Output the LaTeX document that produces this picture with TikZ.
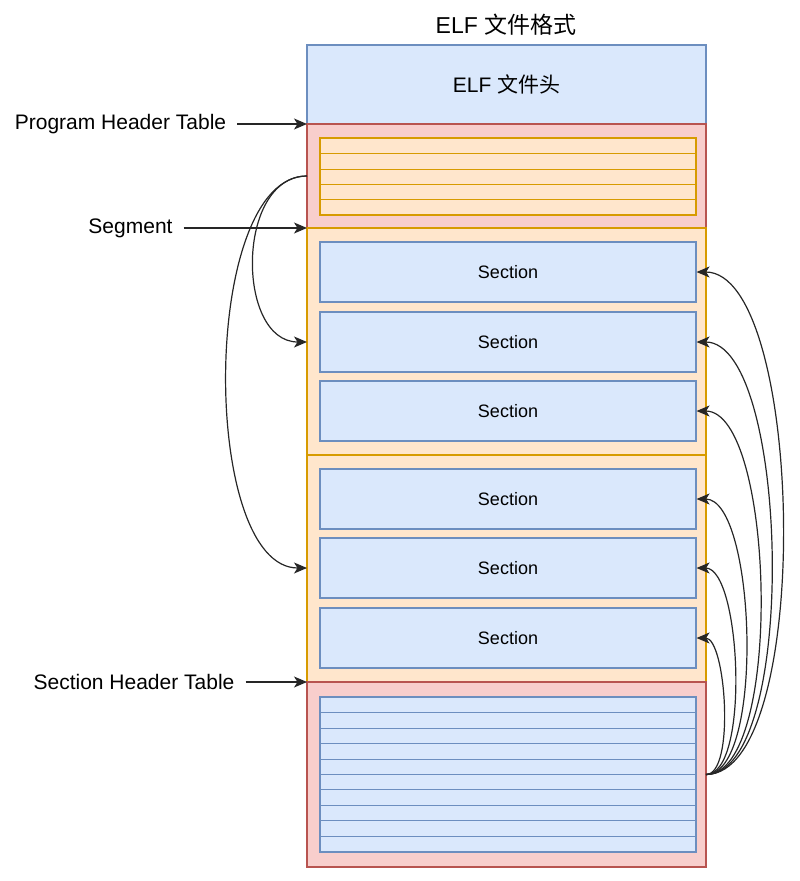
\documentclass[tikz,border=0pt]{standalone}
\usepackage{fontspec}
\setmainfont{Liberation Sans}
\newfontfamily\cjk{Noto Sans CJK SC}
\usetikzlibrary{arrows.meta}
\definecolor{bluefill}{HTML}{DAE8FC}
\definecolor{blueline}{HTML}{6C8EBF}
\definecolor{redfill}{HTML}{F8CECC}
\definecolor{redline}{HTML}{B85450}
\definecolor{orangefill}{HTML}{FFE6CC}
\definecolor{orangeline}{HTML}{D79B00}

\begin{document}
\begin{tikzpicture}[x=1pt,y=-1pt,
  outerbox/.style={draw,line width=1.1pt,minimum width=399pt,inner sep=0pt,outer sep=0pt},
  headbox/.style={outerbox,fill=bluefill,draw=blueline,minimum height=79pt,font=\fontsize{21}{25}\selectfont},
  tablebox/.style={outerbox,fill=redfill,draw=redline},
  segbox/.style={outerbox,fill=orangefill,draw=orangeline,minimum height=227pt},
  secbox/.style={draw=blueline,fill=bluefill,line width=1.1pt,minimum width=376pt,minimum height=60pt,inner sep=0pt,font=\fontsize{18}{22}\selectfont},
  label/.style={inner xsep=11pt,inner ysep=0pt,font=\fontsize{21}{25}\selectfont},
  conn/.style={-{Stealth[length=13pt,width=11pt,inset=3.5pt]},line width=1.2pt,black!85}]
\useasboundingbox (0,0) rectangle (800,881);

% title and file header
\node[font=\fontsize{23}{27}\selectfont] (title) at (506,25) {ELF {\cjk 文件格式}};
\node[headbox] (head) at (506.5,84.5) {ELF {\cjk 文件头}};

% program header table
\node[tablebox,minimum height=104pt] (pht) at (506.5,176) {};
\node[draw=orangeline,fill=orangefill,line width=1.1pt,minimum width=376pt,minimum height=77pt,inner sep=0pt] (ptab) at (508,176.5) {};
\foreach \y in {153.5,169.5,184.5,199.5}
  \draw[orangeline,line width=1.2pt] (320,\y) -- (696,\y);

% segments with their sections
\node[segbox] (seg1) at (506.5,341.5) {};
\node[segbox] (seg2) at (506.5,568.5) {};
\node[secbox] (S1) at (508,272) {Section};
\node[secbox] (S2) at (508,342) {Section};
\node[secbox] (S3) at (508,411) {Section};
\node[secbox] (S4) at (508,499) {Section};
\node[secbox] (S5) at (508,568) {Section};
\node[secbox] (S6) at (508,638) {Section};

% section header table
\node[tablebox,minimum height=185pt] (sht) at (506.5,774.5) {};
\node[draw=blueline,fill=bluefill,line width=1.1pt,minimum width=376pt,minimum height=155pt,inner sep=0pt] (stab) at (508,774.5) {};
\foreach \y in {712.5,728.5,743.5,759.5,774.5,789.5,805.5,820.5,836.5}
  \draw[blueline,line width=1.2pt] (320,\y) -- (696,\y);

% labels on the left
\node[label] (Lpht) at (120.5,124) {Program Header Table};
\node[label] (Lseg) at (130.5,228) {Segment};
\node[label] (Lsht) at (134,682) {Section Header Table};
\draw[conn] (Lpht.east) -- (pht.north west);
\draw[conn] (Lseg.east) -- (seg1.north west);
\draw[conn] (Lsht.east) -- (sht.north west);

% program headers point to segments
\draw[conn] (pht.west) to[out=180,in=180,looseness=1.1] (seg1.west |- S2.west);
\draw[conn] (pht.west) to[out=180,in=180,looseness=0.7] (seg2.west |- S5.west);

% section headers point to sections
\foreach \s in {S1,S2,S3,S4,S5,S6}
  \draw[conn] (sht.east) to[out=0,in=0,looseness=0.55] (\s.east);
\end{tikzpicture}
\end{document}
